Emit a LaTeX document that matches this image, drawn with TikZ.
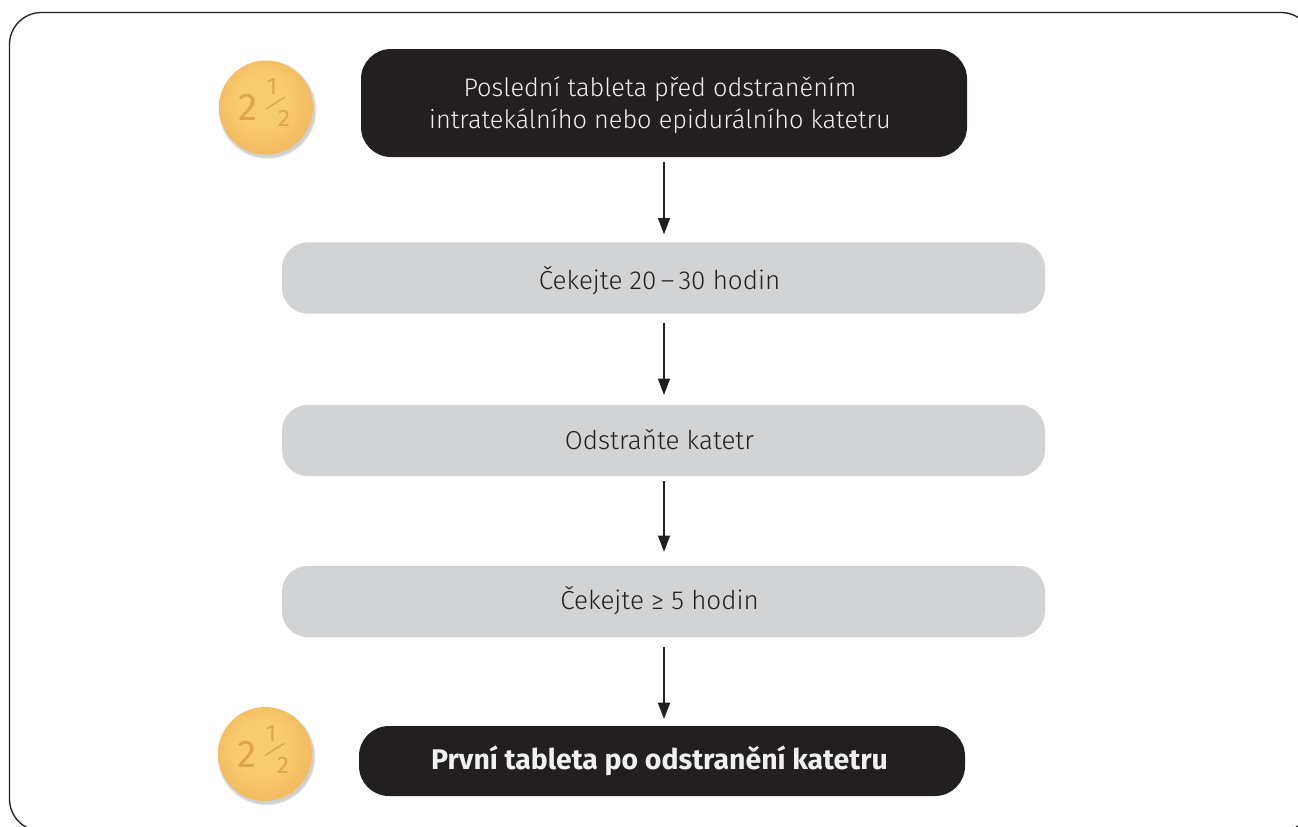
\documentclass[tikz,border=0pt]{standalone}
\usepackage{fontspec}
\setmainfont{Fira Sans Light}[BoldFont={Fira Sans Bold}]
\newfontfamily\pillfont{Fira Sans}
\usetikzlibrary{arrows.meta,shadings}
\definecolor{ink}{HTML}{231F20}
\definecolor{panel}{HTML}{D1D3D4}
\definecolor{paper}{HTML}{F1F1F1}
\definecolor{pillin}{HTML}{F9CB70}
\definecolor{pillout}{HTML}{F3BC60}
\definecolor{pillmark}{HTML}{DDA44A}
\newcommand{\pad}{\hspace*{6pt}}
\pgfdeclareradialshading{pillshade}{\pgfpoint{-3pt}{5pt}}{color(0pt)=(pillin); color(14pt)=(pillin); color(25pt)=(pillout); color(50pt)=(pillout)}
\tikzset{
  x=0.75pt,y=-0.75pt,
  every node/.style={inner sep=0pt,outer sep=0pt,align=center},
  darkbox/.style={fill=ink,text=paper,rounded corners=22.5pt,minimum width=454.5pt},
  greybox/.style={fill=panel,text=ink,rounded corners=19.5pt,minimum width=572.25pt,minimum height=53.5pt,text height=20pt,text depth=3.5pt,font=\fontsize{19.5pt}{24pt}\selectfont},
  flow/.style 2 args={draw=ink,line width=0.9pt,-{Triangle[length=12.2pt,width=9pt]},shorten <=#1*0.75pt,shorten >=#2*0.75pt},
  pillmarks/.style={text=pillmark,font=\pillfont\fontsize{#1}{#1}\selectfont},
  pics/tablet/.style={code={
    \foreach \r/\o in {49.5/0.02,49/0.03,48.5/0.04,48/0.05,47.5/0.06}{\fill[black,opacity=\o] (1.5,2.5) circle[radius=\r];}
    \shade[shading=pillshade] (0,0) circle[radius=47];
    \node[pillmarks=29pt] (-two) at (-18,0) {2};
    \node[pillmarks=18pt] (-one) at (6,-21) {1};
    \node[pillmarks=18pt] (-half) at (18,11) {2};
    \draw[pillmark,line width=1pt] (0,1.5) -- (19,-10.5);
  }}
}
\begin{document}
\begin{tikzpicture}
\useasboundingbox (0,0) rectangle (1298,826);
\begin{scope}
\clip (0,0) rectangle (1298,826);
\draw[ink,line width=1pt,rounded corners=24pt] (9.5,12.5) rectangle (1313,831);
\end{scope}
\node[darkbox,minimum height=81pt,text height=40pt,text depth=2.5pt,font=\fontsize{19pt}{24pt}\selectfont] (a) at (664,103) {Poslední tableta před odstraněním\pad\\intratekálního nebo epidurálního katetru\pad};
\node[greybox] (b) at (663.5,278) {Čekejte 20\,–\,30 hodin\pad};
\node[greybox,text height=17pt] (c) at (663.5,440.5) {Odstraňte katetr\pad};
\node[greybox,text height=15.5pt] (d) at (663.5,601.5) {Čekejte ≥ 5 hodin\pad};
\node[darkbox,minimum height=52.5pt,text height=18pt,text depth=6pt,font=\bfseries\fontsize{21.3pt}{24pt}\selectfont] (e) at (662,761) {První tableta po odstranění katetru\hspace*{3.75pt}};
\draw[flow={5}{8}] (a.south) -- (a.south |- b.north);
\draw[flow={9}{10}] (a.south |- b.south) -- (a.south |- c.north);
\draw[flow={5}{14}] (a.south |- c.south) -- (a.south |- d.north);
\draw[flow={10}{7}] (a.south |- d.south) -- (a.south |- e.north);
\pic (top) at (266,107.5) {tablet};
\pic (bottom) at (265,754) {tablet};
\end{tikzpicture}
\end{document}
